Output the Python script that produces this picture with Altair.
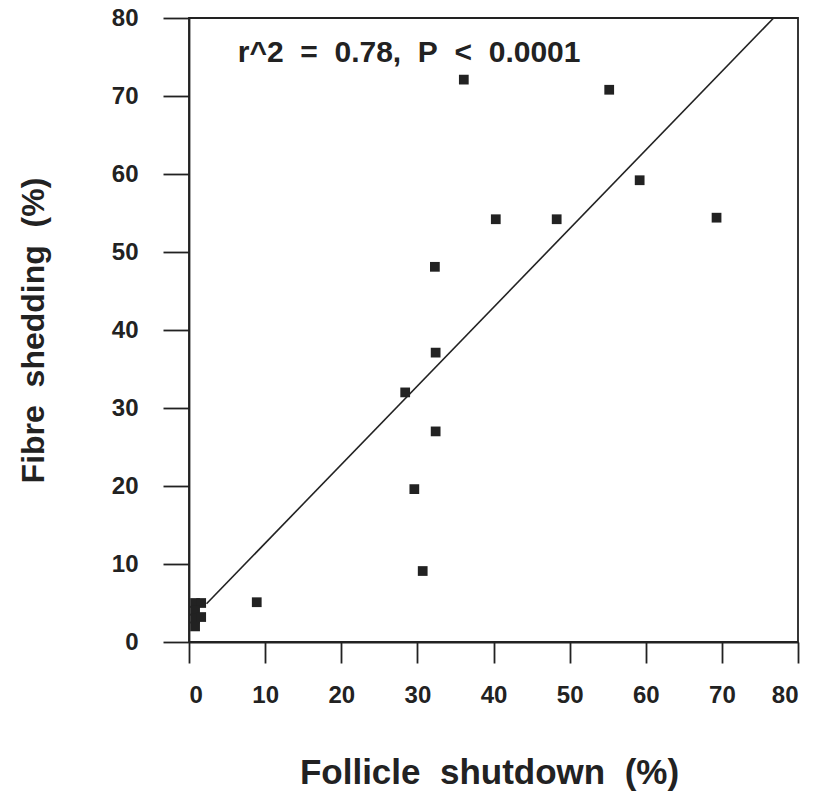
import altair as alt
import pandas as pd

# Follicle shutdown (%) vs fibre shedding (%), one square per animal
shutdown = [0.8, 1.6, 0.8, 0.8, 1.6, 0.8, 8.9, 28.4, 29.6, 30.7, 32.3, 32.4,
            32.4, 36.1, 40.3, 48.3, 55.2, 59.2, 69.3]
shedding = [5.0, 5.0, 4.0, 3.0, 3.2, 2.0, 5.1, 32.0, 19.6, 9.1, 48.1, 37.1,
            27.0, 72.1, 54.2, 54.2, 70.8, 59.2, 54.4]

# fitted regression line end points
fit_x = [2.3, 76.8]
fit_y = [4.9, 80.0]

tick_values = [0, 10, 20, 30, 40, 50, 60, 70, 80]

# wide word spacing kept with non-breaking spaces
SP = "\u00a0\u00a0"
stat_label = SP.join(["r^2", "=", "0.78,", "P", "<", "0.0001"])
x_title = SP.join(["Follicle", "shutdown", "(%)"])
y_title = SP.join(["Fibre", "shedding", "(%)"])

FONT = "Liberation Sans"
INK = "#222222"

points = pd.DataFrame({"shutdown": shutdown, "shedding": shedding})
fit = pd.DataFrame({"shutdown": fit_x, "shedding": fit_y})
note = pd.DataFrame({"shutdown": [6.4], "shedding": [74.4], "label": [stat_label]})

x_scale = alt.Scale(domain=[0, 80], nice=False, zero=True)
y_scale = alt.Scale(domain=[0, 80], nice=False, zero=True)

x_axis = alt.Axis(
    values=tick_values, grid=False, tickSize=21, labelPadding=20,
    labelFontSize=24, labelFont=FONT, labelFontWeight="bold", labelColor=INK,
    labelBaseline="top",
    title=x_title, titleFont=FONT, titleFontSize=35,
    titleFontWeight="bold", titleColor=INK, titleX=300, titleY=141,
    titleBaseline="alphabetic", titleAlign="center",
    domainColor=INK, tickColor=INK, domainWidth=1.8, tickWidth=1.8,
)
y_axis = alt.Axis(
    values=tick_values, grid=False, tickSize=26, labelPadding=25,
    labelFontSize=24, labelFont=FONT, labelFontWeight="bold", labelColor=INK,
    title=y_title, titleFont=FONT, titleFontSize=32,
    titleFontWeight="bold", titleColor=INK, titleX=-146, titleY=312,
    titleAngle=-90, titleBaseline="alphabetic", titleAlign="center",
    domainColor=INK, tickColor=INK, domainWidth=1.8, tickWidth=1.8,
)

scatter = alt.Chart(points).mark_point(
    shape="square", filled=True, size=95, color=INK, opacity=1
).encode(
    x=alt.X("shutdown:Q", scale=x_scale, axis=x_axis),
    y=alt.Y("shedding:Q", scale=y_scale, axis=y_axis),
)

line = alt.Chart(fit).mark_line(color=INK, strokeWidth=1.6).encode(
    x=alt.X("shutdown:Q", scale=x_scale),
    y=alt.Y("shedding:Q", scale=y_scale),
)

text = alt.Chart(note).mark_text(
    align="left", baseline="alphabetic", font=FONT, fontSize=30,
    fontWeight="bold", color=INK
).encode(
    x=alt.X("shutdown:Q", scale=x_scale),
    y=alt.Y("shedding:Q", scale=y_scale),
    text="label:N",
)

chart = (
    alt.layer(line, scatter, text)
    .properties(
        width=609, height=624,
        autosize=alt.AutoSizeParams(type="none"),
        padding={"left": 189, "top": 18, "right": 19, "bottom": 155},
        background="white",
    )
    .configure_view(stroke=INK, strokeWidth=1.8)
)

chart.save("out.html", embed_options={"renderer": "svg", "actions": False})
